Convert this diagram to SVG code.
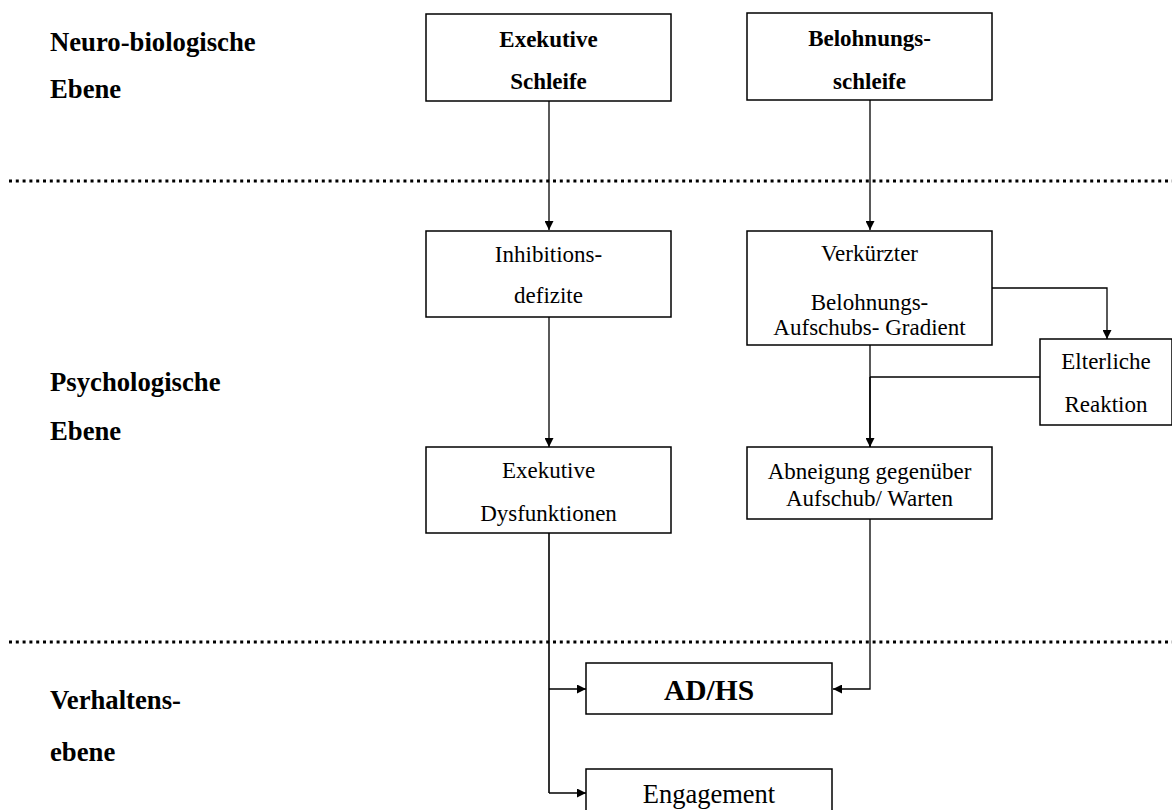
<svg xmlns="http://www.w3.org/2000/svg" width="1172" height="810" viewBox="0 0 1172 810">
<defs>
<style>
.bx{fill:#fff;stroke:#000;stroke-width:1.5}
.t{font-family:"Liberation Serif","Times New Roman",serif;font-size:23px;fill:#000;text-anchor:middle}
.b{font-weight:bold}
.lab{font-family:"Liberation Serif","Times New Roman",serif;font-size:26.7px;font-weight:bold;fill:#000}
.ln{fill:none;stroke:#000;stroke-width:1.3}
.dot{fill:none;stroke:#000;stroke-width:3;stroke-dasharray:3 3.8}
</style>
<marker id="ah" viewBox="0 0 10 10" refX="10" refY="5" markerWidth="10" markerHeight="9" markerUnits="userSpaceOnUse" orient="auto">
<path d="M0,0 L10,5 L0,10 Z" fill="#000"/>
</marker>
</defs>
<rect width="1172" height="810" fill="#fff"/>
<g id="levels">
<line class="dot" x1="9" y1="181" x2="1172" y2="181"/>
<line class="dot" x1="9" y1="642" x2="1172" y2="642"/>
<text class="lab" x="50" y="51">Neuro-biologische</text>
<text class="lab" x="50" y="98">Ebene</text>
<text class="lab" x="50" y="391">Psychologische</text>
<text class="lab" x="50" y="440">Ebene</text>
<text class="lab" x="50" y="709">Verhaltens-</text>
<text class="lab" x="50" y="761">ebene</text>
</g>
<g id="connectors">
<line class="ln" x1="549" y1="101" x2="549" y2="230" marker-end="url(#ah)"/>
<line class="ln" x1="870" y1="100" x2="870" y2="230" marker-end="url(#ah)"/>
<line class="ln" x1="549" y1="317" x2="549" y2="447" marker-end="url(#ah)"/>
<polyline class="ln" points="992,288 1107,288 1107,339" marker-end="url(#ah)"/>
<line class="ln" x1="1040" y1="377" x2="870" y2="377"/>
<line class="ln" x1="870" y1="345" x2="870" y2="377"/>
<line class="ln" x1="870" y1="377" x2="870" y2="447" style="stroke-width:1.8" marker-end="url(#ah)"/>
<line class="ln" x1="549" y1="533" x2="549" y2="793" style="stroke-width:1.6"/>
<line class="ln" x1="549" y1="689" x2="586" y2="689" marker-end="url(#ah)"/>
<line class="ln" x1="549" y1="793" x2="586" y2="793" marker-end="url(#ah)"/>
<polyline class="ln" points="870,519 870,689 833,689" marker-end="url(#ah)"/>
</g>
<g id="n-exekutive-schleife">
<rect class="bx" x="426" y="14" width="245" height="87"/>
<text class="t b" x="548.5" y="47">Exekutive</text>
<text class="t b" x="548.5" y="89">Schleife</text>
</g>
<g id="n-belohnungsschleife">
<rect class="bx" x="747" y="13" width="245" height="87"/>
<text class="t b" x="869.5" y="46">Belohnungs-</text>
<text class="t b" x="869.5" y="89">schleife</text>
</g>
<g id="n-inhibition">
<rect class="bx" x="426" y="231" width="245" height="86"/>
<text class="t" x="548.5" y="262">Inhibitions-</text>
<text class="t" x="548.5" y="303">defizite</text>
</g>
<g id="n-verkuerzter">
<rect class="bx" x="747" y="231" width="245" height="114"/>
<text class="t" x="869.5" y="261">Verkürzter</text>
<text class="t" x="869.5" y="310">Belohnungs-</text>
<text class="t" x="869.5" y="335">Aufschubs- Gradient</text>
</g>
<g id="n-elterliche">
<rect class="bx" x="1040" y="339" width="132" height="86"/>
<text class="t" x="1106" y="369">Elterliche</text>
<text class="t" x="1106" y="412">Reaktion</text>
</g>
<g id="n-exekutive-dysfunktionen">
<rect class="bx" x="426" y="447" width="245" height="86"/>
<text class="t" x="548.5" y="478">Exekutive</text>
<text class="t" x="548.5" y="521">Dysfunktionen</text>
</g>
<g id="n-abneigung">
<rect class="bx" x="747" y="447" width="245" height="72"/>
<text class="t" x="869.5" y="479">Abneigung gegenüber</text>
<text class="t" x="869.5" y="506">Aufschub/ Warten</text>
</g>
<g id="n-adhs">
<rect class="bx" x="586" y="663" width="246" height="51"/>
<text class="t b" x="709" y="700" style="font-size:29.5px">AD/HS</text>
</g>
<g id="n-engagement">
<rect class="bx" x="586" y="769" width="246" height="60"/>
<text class="t" x="709" y="803" style="font-size:26.5px">Engagement</text>
</g>
</svg>
